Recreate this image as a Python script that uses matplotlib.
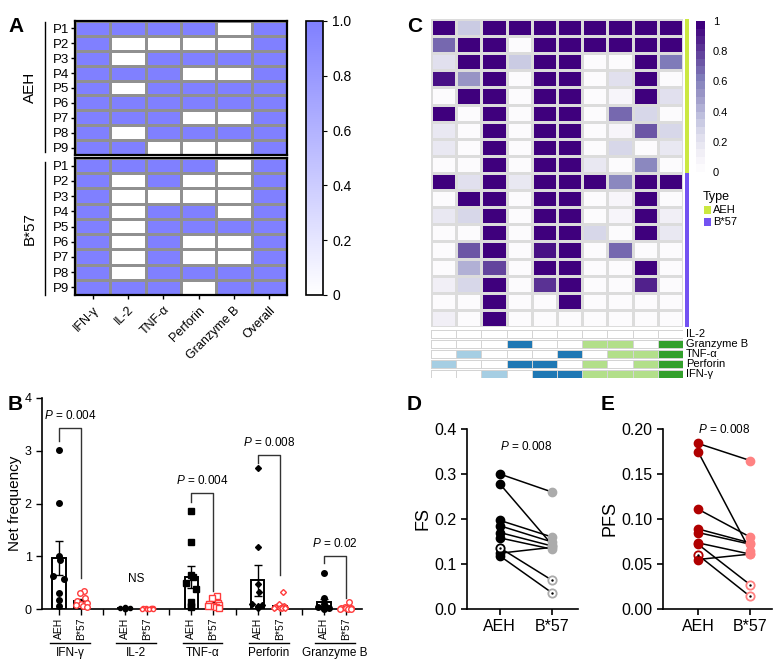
import numpy as np
import matplotlib
matplotlib.use("Agg")
import matplotlib.pyplot as plt
from matplotlib.colors import LinearSegmentedColormap, ListedColormap
from matplotlib.transforms import blended_transform_factory
from matplotlib.patches import Rectangle

plt.rcParams['font.family'] = ['Liberation Sans', 'DejaVu Sans']
plt.rcParams['mathtext.fontset'] = 'custom'
plt.rcParams['mathtext.it'] = 'Liberation Sans:italic'
plt.rcParams['mathtext.rm'] = 'Liberation Sans'

W, H = 780, 671

# ---------------- data ----------------
# panel A: responders (1) / non responders (0)
cytokines = ['IFN-γ', 'IL-2', 'TNF-α', 'Perforin', 'Granzyme B', 'Overall']
patients = ['P1', 'P2', 'P3', 'P4', 'P5', 'P6', 'P7', 'P8', 'P9']
resp_aeh = [[1, 1, 1, 1, 0, 1],
            [1, 0, 0, 0, 0, 1],
            [1, 0, 1, 1, 1, 1],
            [1, 1, 1, 0, 0, 1],
            [1, 0, 1, 1, 1, 1],
            [1, 1, 1, 1, 1, 1],
            [1, 1, 1, 0, 0, 1],
            [1, 0, 1, 1, 1, 1],
            [1, 1, 0, 0, 0, 1]]
resp_b57 = [[1, 1, 1, 1, 0, 1],
            [1, 0, 1, 0, 0, 1],
            [1, 0, 0, 0, 0, 1],
            [1, 0, 1, 1, 0, 1],
            [1, 0, 1, 1, 1, 1],
            [1, 0, 1, 0, 0, 1],
            [1, 0, 1, 0, 0, 1],
            [1, 0, 1, 1, 1, 1],
            [1, 1, 1, 0, 1, 1]]

# panel B: net frequency
groups_b = ['IFN-γ', 'IL-2', 'TNF-α', 'Perforin', 'Granzyme B']
ifn_aeh = [3.02, 2.01, 1.00, 0.92, 0.63, 0.57, 0.30, 0.18, 0.06]
ifn_b57 = [0.35, 0.30, 0.20, 0.15, 0.12, 0.10, 0.08, 0.05, 0.03]
il2_aeh = [0.03, 0.02, 0.02, 0.02, 0.01, 0.01, 0.01, 0.00, 0.00]
il2_b57 = [0.02, 0.02, 0.01, 0.01, 0.01, 0.00, 0.00, 0.00, 0.00]
tnf_aeh = [1.85, 1.27, 0.65, 0.60, 0.50, 0.38, 0.13, 0.05, 0.03]
tnf_b57 = [0.25, 0.20, 0.12, 0.10, 0.08, 0.06, 0.05, 0.03, 0.02]
perf_aeh = [2.67, 1.18, 0.48, 0.32, 0.10, 0.07, 0.05, 0.03, 0.02]
perf_b57 = [0.32, 0.09, 0.05, 0.04, 0.03, 0.02, 0.02, 0.01, 0.01]
gzb_aeh = [0.68, 0.20, 0.10, 0.06, 0.03, 0.02, 0.01, 0.01, 0.00]
gzb_b57 = [0.14, 0.04, 0.02, 0.02, 0.01, 0.01, 0.00, 0.00, 0.00]
pvals_b = ['0.004', None, '0.004', '0.008', '0.02']
# bracket: top, left leg bottom, right leg bottom
brackets_b = [(3.43, 3.18, 0.58), None, (2.20, 2.03, 0.35), (2.92, 2.77, 0.64), (1.00, 0.87, 0.20)]

# panel C
comb_values = [
    [1.00, 0.30, 1, 1.00, 1.00, 1, 1.00, 1.00, 1.00, 1.00],
    [0.65, 1.00, 1, 0.00, 1.00, 1, 1.00, 1.00, 1.00, 1.00],
    [0.20, 1.00, 1, 0.30, 1.00, 1, 0.02, 0.02, 1.00, 0.60],
    [0.90, 0.50, 1, 0.02, 1.00, 1, 0.02, 0.20, 1.00, 0.02],
    [0.02, 1.00, 1, 0.02, 1.00, 1, 0.02, 0.05, 1.00, 0.20],
    [1.00, 0.02, 1, 0.02, 1.00, 1, 0.02, 0.65, 0.25, 0.02],
    [0.15, 0.02, 1, 0.02, 1.00, 1, 0.02, 0.05, 0.70, 0.25],
    [0.15, 0.02, 1, 0.02, 1.00, 1, 0.02, 0.25, 0.02, 0.15],
    [0.02, 0.02, 1, 0.02, 0.95, 1, 0.15, 0.02, 0.55, 0.02],
    [1.00, 0.20, 1, 0.15, 1.00, 1, 1.00, 0.55, 1.00, 1.00],
    [0.02, 1.00, 1, 0.02, 1.00, 1, 0.02, 0.05, 1.00, 0.02],
    [0.15, 0.25, 1, 0.02, 1.00, 1, 0.02, 0.05, 0.95, 0.10],
    [0.02, 0.02, 1, 0.02, 1.00, 1, 0.25, 0.02, 1.00, 0.15],
    [0.02, 0.70, 1, 0.02, 0.90, 1, 0.02, 0.65, 0.02, 0.02],
    [0.02, 0.40, 0.75, 0.02, 1.00, 1, 0.02, 0.02, 0.95, 0.02],
    [0.10, 0.25, 1, 0.02, 0.80, 1, 0.02, 0.02, 0.85, 0.02],
    [0.02, 0.02, 1, 0.02, 0.02, 1, 0.02, 0.02, 0.02, 0.02],
    [0.10, 0.02, 1, 0.02, 0.02, 0.02, 0.02, 0.02, 0.02, 0.02],
]
row_type = [0] * 9 + [1] * 9
anno_labels = ['IL-2', 'Granzyme B', 'TNF-α', 'Perforin', 'IFN-γ']
anno_codes = [[0, 0, 0, 0, 0, 0, 0, 0, 0, 0],
              [0, 0, 0, 2, 0, 0, 3, 3, 0, 4],
              [0, 1, 0, 0, 0, 2, 0, 3, 3, 4],
              [1, 0, 0, 2, 2, 0, 3, 0, 3, 4],
              [0, 0, 1, 0, 2, 2, 3, 3, 3, 4]]

# panels D / E
fs_aeh = [0.300, 0.278, 0.197, 0.185, 0.170, 0.158, 0.124, 0.136, 0.118]
fs_b57 = [0.260, 0.143, 0.160, 0.149, 0.140, 0.133, 0.137, 0.064, 0.036]
fs_open_aeh = [7]
fs_open_b57 = [7, 8]
pfs_aeh = [0.184, 0.175, 0.111, 0.089, 0.085, 0.0735, 0.072, 0.060, 0.055]
pfs_b57 = [0.165, 0.065, 0.080, 0.0735, 0.072, 0.061, 0.027, 0.014, 0.061]
pfs_open_aeh = [7]
pfs_open_b57 = [6, 7]


def px(x0, y0, x1, y1):
    return [x0 / W, 1 - y1 / H, (x1 - x0) / W, (y1 - y0) / H]


fig = plt.figure(figsize=(7.8, 6.71), dpi=100)


def panel_letter(x, y, s):
    fig.text(x / W, 1 - y / H, s, fontsize=15, fontweight='bold', va='center', ha='left')


# ---------------- panel A ----------------
cmap_a = LinearSegmentedColormap.from_list('a', ['#ffffff', '#8080ff'])
axA1 = fig.add_axes(px(75, 21, 287, 155))
axA2 = fig.add_axes(px(75, 158, 287, 295))
for ax, d in [(axA1, resp_aeh), (axA2, resp_b57)]:
    ax.pcolormesh(np.array(d), cmap=cmap_a, vmin=0, vmax=1, edgecolors='#909090', linewidth=0.8)
    ax.set_ylim(len(d), 0)
    ax.set_xlim(0, 6)
    ax.set_yticks(np.arange(9) + 0.5)
    ax.set_yticklabels(patients, fontsize=9.5)
    ax.tick_params(axis='y', length=3, width=1, pad=1)
    for s in ax.spines.values():
        s.set_linewidth(1.6)
axA1.set_xticks([])
axA2.set_xticks(np.arange(6) + 0.5)
axA2.set_xticklabels(cytokines, rotation=45, ha='right', rotation_mode='anchor', fontsize=9)
axA2.tick_params(axis='x', length=3, width=1)

caxA = fig.add_axes(px(306, 21, 323, 295))
cbA = fig.colorbar(plt.cm.ScalarMappable(cmap=cmap_a, norm=plt.Normalize(0, 1)), cax=caxA)
cbA.set_ticks([0, 0.2, 0.4, 0.6, 0.8, 1.0])
cbA.set_ticklabels(['0', '0.2', '0.4', '0.6', '0.8', '1.0'])
caxA.tick_params(labelsize=10, length=3)
cbA.outline.set_linewidth(1.2)

for (y0, y1, lab) in [(22, 152, 'AEH'), (162, 295, 'B*57')]:
    fig.add_artist(plt.Line2D([45 / W, 45 / W], [1 - y0 / H, 1 - y1 / H], color='black', lw=1))
    fig.text(30 / W, 1 - (y0 + y1) / 2 / H, lab, rotation=90, fontsize=11, ha='center', va='center')
panel_letter(8, 27, 'A')

# ---------------- panel B ----------------
axB = fig.add_axes(px(42, 398, 362, 609))
aeh_sets = [ifn_aeh, il2_aeh, tnf_aeh, perf_aeh, gzb_aeh]
b57_sets = [ifn_b57, il2_b57, tnf_b57, perf_b57, gzb_b57]
mk = ['o', 'o', 's', 'D', 'o']
ms = [4, 3, 4.5, 3, 4]
jit_aeh = [0, 0, 0, 0.05, -0.25, 0.22, 0, 0, 0]
jit_b57 = [0.15, -0.05, 0.2, -0.2, 0.25, 0.0, -0.25, 0.1, 0.25]
tr = blended_transform_factory(axB.transData, fig.transFigure)
xt, xl = [], []
for i in range(5):
    xa, xb = 3 * i, 3 * i + 1
    for x, vals, face, edge in [(xa, aeh_sets[i], 'black', 'black'), (xb, b57_sets[i], 'white', '#ff3b3b')]:
        v = np.array(vals)
        m = v.mean()
        sem = v.std(ddof=1) / np.sqrt(len(v))
        axB.bar(x, m, width=0.62, facecolor='white', edgecolor='black', lw=1.4, zorder=2)
        axB.errorbar(x, m, yerr=sem, color='black', capsize=3, lw=1, capthick=1, zorder=3)
        jit = jit_aeh if x == xa else jit_b57
        axB.plot(x + np.array(jit), v, ls='none', marker=mk[i], ms=ms[i], mfc=face, mec=edge,
                 mew=1, zorder=4, clip_on=False)
    xt += [xa, xb]
    xl += ['AEH', 'B*57']
    if brackets_b[i] is not None:
        top, lb, rb = brackets_b[i]
        axB.plot([xa, xa, xb, xb], [lb, top, top, rb], color='#333333', lw=1)
        axB.text(xa + 0.5, top + 0.12, r'$\it{P}$ = ' + pvals_b[i], ha='center', va='bottom', fontsize=8.5)
    # underline and group label
    axB.plot([xa - 0.4, xb + 0.4], [1 - 643 / H] * 2, color='black', lw=1, transform=tr, clip_on=False)
    axB.text(xa + 0.5, 1 - 647 / H, groups_b[i], transform=tr, ha='center', va='top', fontsize=8.5)
axB.text(3.5, 0.45, 'NS', ha='center', va='bottom', fontsize=8.5)
axB.set_xlim(-0.77, 13.73)
axB.set_ylim(0, 4)
axB.set_yticks([0, 1, 2, 3, 4])
axB.set_xticks(xt)
axB.set_xticklabels(xl, rotation=90, fontsize=7.5)
axB.set_xticks([2, 5, 8, 11], minor=True)
axB.tick_params(axis='x', which='both', length=4, width=1, pad=2)
axB.tick_params(axis='y', labelsize=9, length=4, width=1)
axB.spines['top'].set_visible(False)
axB.spines['right'].set_visible(False)
axB.spines['left'].set_linewidth(1.2)
axB.spines['bottom'].set_linewidth(1.2)
axB.set_ylabel('Net frequency', fontsize=11, labelpad=2)
panel_letter(8, 405, 'B')

# ---------------- panel C ----------------
cmap_c = plt.get_cmap('Purples', 20)
axC = fig.add_axes(px(431, 19, 683, 327))
axC.pcolormesh(np.array(comb_values), cmap=cmap_c, vmin=0, vmax=1, edgecolors='#dcdcdc', linewidth=0.8)
axC.set_ylim(18, 0)
axC.set_xlim(0, 10)
axC.set_xticks([])
axC.set_yticks([])
for s in axC.spines.values():
    s.set_visible(False)

type_cols = ['#cbe841', '#7352f2']
axT = fig.add_axes(px(685, 19, 689, 327))
axT.pcolormesh(np.array(row_type)[:, None], cmap=ListedColormap(type_cols), vmin=0, vmax=1)
axT.set_ylim(18, 0)
axT.set_xticks([])
axT.set_yticks([])
for s in axT.spines.values():
    s.set_visible(False)

caxC = fig.add_axes(px(696, 21, 705, 172))
cbC = fig.colorbar(plt.cm.ScalarMappable(cmap=cmap_c, norm=plt.Normalize(0, 1)), cax=caxC)
cbC.set_ticks([0, 0.2, 0.4, 0.6, 0.8, 1])
cbC.set_ticklabels(['0', '0.2', '0.4', '0.6', '0.8', '1'])
caxC.tick_params(labelsize=8, length=2, color='white')
cbC.outline.set_visible(False)

fig.text(703 / W, 1 - 197 / H, 'Type', fontsize=9, va='center')
for j, lab in enumerate(['AEH', 'B*57']):
    y = 210 + 12 * j
    fig.patches.append(Rectangle((704 / W, 1 - (y + 4) / H), 7 / W, 8 / H, facecolor=type_cols[j],
                                 transform=fig.transFigure, figure=fig))
    fig.text(713 / W, 1 - y / H, lab, fontsize=8, va='center')

anno_cmap = ListedColormap(['#ffffff', '#a6cee3', '#1f78b4', '#b2df8a', '#33a02c'])
axN = fig.add_axes(px(431, 330, 683, 378))
for r, codes in enumerate(anno_codes):
    y0 = r * 10
    axN.pcolormesh(np.arange(11), [y0, y0 + 8], np.array(codes)[None, :], cmap=anno_cmap,
                   vmin=-0.5, vmax=4.5, edgecolors='#d4d4d4', linewidth=0.5)
    axN.text(10.12, y0 + 4, anno_labels[r], fontsize=8, va='center', ha='left')
axN.set_ylim(48, 0)
axN.set_xlim(0, 10)
axN.axis('off')
panel_letter(407, 27, 'C')


# ---------------- panels D, E ----------------
def paired(ax, a, b, open_a, open_b, col_a, col_b, ylim, yt, ytl, ylab, ptxt_y):
    for i in range(len(a)):
        ax.plot([0, 1], [a[i], b[i]], color='black', lw=1.1, zorder=2)
    for i in range(len(a)):
        if i in open_a:
            ax.plot(0, a[i], 'o', ms=6, mfc='white', mec=col_a, mew=1.3, zorder=3)
            ax.plot(0, a[i], '.', ms=1.5, color='black', zorder=4)
        else:
            ax.plot(0, a[i], 'o', ms=6, color=col_a, zorder=3)
        if i in open_b:
            ax.plot(1, b[i], 'o', ms=6, mfc='white', mec=col_b, mew=1.3, zorder=3)
            ax.plot(1, b[i], '.', ms=1.5, color='black', zorder=4)
        else:
            ax.plot(1, b[i], 'o', ms=6, color=col_b, zorder=3)
    ax.set_ylim(*ylim)
    ax.set_yticks(yt)
    ax.set_yticklabels(ytl)
    ax.set_xticks([0, 1])
    ax.set_xticklabels(['AEH', 'B*57'])
    ax.tick_params(labelsize=11.5, length=4, width=1.2)
    ax.spines['top'].set_visible(False)
    ax.spines['right'].set_visible(False)
    ax.spines['left'].set_linewidth(1.2)
    ax.spines['bottom'].set_linewidth(1.2)
    ax.set_ylabel(ylab, fontsize=13, labelpad=2)
    ax.text(0.5, ptxt_y, r'$\it{P}$ = 0.008', ha='center', va='center', fontsize=8.5)


axD = fig.add_axes(px(467, 429, 578, 609))
paired(axD, fs_aeh, fs_b57, fs_open_aeh, fs_open_b57, 'black', '#ababab',
       (0, 0.4), [0, 0.1, 0.2, 0.3, 0.4], ['0.0', '0.1', '0.2', '0.3', '0.4'], 'FS', 0.362)
axD.set_xlim(-0.63, 1.5)
panel_letter(407, 405, 'D')

axE = fig.add_axes(px(663, 429, 772, 609))
paired(axE, pfs_aeh, pfs_b57, pfs_open_aeh, pfs_open_b57, '#b00000', '#ff8282',
       (0, 0.2), [0, 0.05, 0.10, 0.15, 0.20], ['0.00', '0.05', '0.10', '0.15', '0.20'], 'PFS', 0.199)
axE.set_xlim(-0.67, 1.42)
panel_letter(601, 405, 'E')

fig.savefig('out.png', dpi=100)
